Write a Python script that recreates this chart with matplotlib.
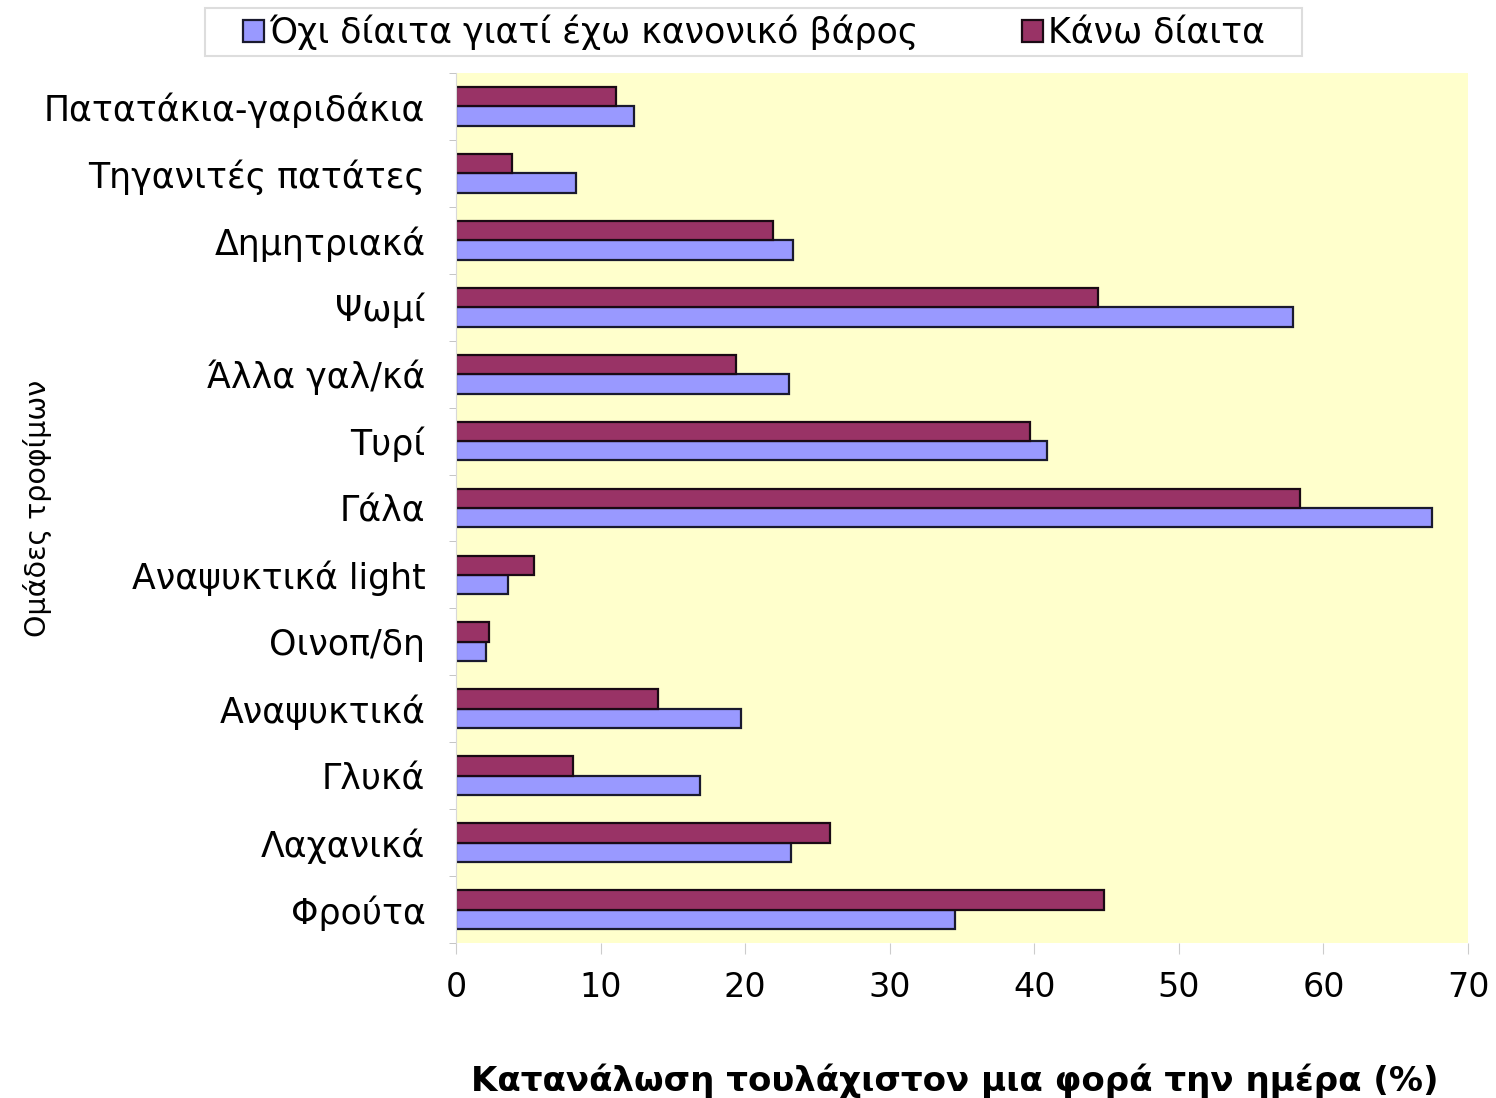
import matplotlib
matplotlib.use("Agg")
import matplotlib.pyplot as plt
from matplotlib.patches import Rectangle
import numpy as np

plt.rcParams['font.family'] = ['DejaVu Sans']

# Food groups, listed from top to bottom
categories = [
    "Πατατάκια-γαριδάκια", "Τηγανιτές πατάτες", "Δημητριακά", "Ψωμί",
    "Άλλα γαλ/κά", "Τυρί", "Γάλα", "Αναψυκτικά light", "Οινοπ/δη",
    "Αναψυκτικά", "Γλυκά", "Λαχανικά", "Φρούτα",
]
# % consuming at least once a day
no_diet = [12.3, 8.3, 23.3, 57.9, 23.0, 40.9, 67.5, 3.6, 2.1, 19.7, 16.9, 23.2, 34.5]
on_diet = [11.1, 3.9, 21.9, 44.4, 19.4, 39.7, 58.4, 5.4, 2.3, 14.0, 8.1, 25.9, 44.8]
series_labels = ["Όχι δίαιτα γιατί έχω κανονικό βάρος", "Κάνω δίαιτα"]
xticks = [0, 10, 20, 30, 40, 50, 60, 70]

fig = plt.figure(figsize=(14.96, 10.98), dpi=100)
ax = fig.add_axes([0.3048, 0.1412, 0.6765, 0.7923])
ax.set_facecolor("#FFFFCC")

n = len(categories)
y = np.arange(n)[::-1]
h = 0.29
b1 = ax.barh(y - h / 2, no_diet, height=h, color="#9999FF", edgecolor="#1a1a2e", linewidth=1.6,
             label=series_labels[0])
b2 = ax.barh(y + h / 2, on_diet, height=h, color="#993366", edgecolor="#1a0a14", linewidth=1.6,
             label=series_labels[1])

ax.set_xlim(0, 70)
ax.set_ylim(-0.5, n - 0.5)
ax.set_xticks(xticks)
ax.set_xticklabels([str(t) for t in xticks], fontsize=24)
ax.set_yticks(y)
ax.set_yticklabels(categories, fontsize=25)
ax.set_yticks(np.arange(n + 1) - 0.5, minor=True)
ax.tick_params(axis='y', which='major', length=0, pad=22)
ax.tick_params(axis='y', which='minor', length=5, color="#bbbbbb")
ax.tick_params(axis='x', length=8, color="#cccccc", pad=12)

for s in ["top", "right"]:
    ax.spines[s].set_visible(False)
ax.spines["left"].set_color("#d8d8d8")
ax.spines["bottom"].set_visible(False)

ax.set_xlabel("Κατανάλωση τουλάχιστον μια φορά την ημέρα (%)", fontsize=24.5, fontweight="bold")
ax.xaxis.set_label_coords(0.493, -0.138)
ax.set_ylabel("Ομάδες τροφίμων", fontsize=20.5)
ax.yaxis.set_label_coords(-0.399, 0.5)

# Legend box, wider than its contents
fig.patches.append(Rectangle((0.137, 0.949), 0.7332, 0.0437, transform=fig.transFigure,
                             facecolor="white", edgecolor="#dddddd", linewidth=1.5, zorder=0))
leg = fig.legend(handles=[b1, b2], labels=series_labels, loc="center",
                 bbox_to_anchor=(0.504, 0.9705), ncol=2, fontsize=25, frameon=False,
                 handlelength=0.6, handleheight=0.6,
                 handletextpad=0.15, columnspacing=3.0, borderpad=0.3)

fig.savefig("out.png", dpi=100, facecolor="white")
